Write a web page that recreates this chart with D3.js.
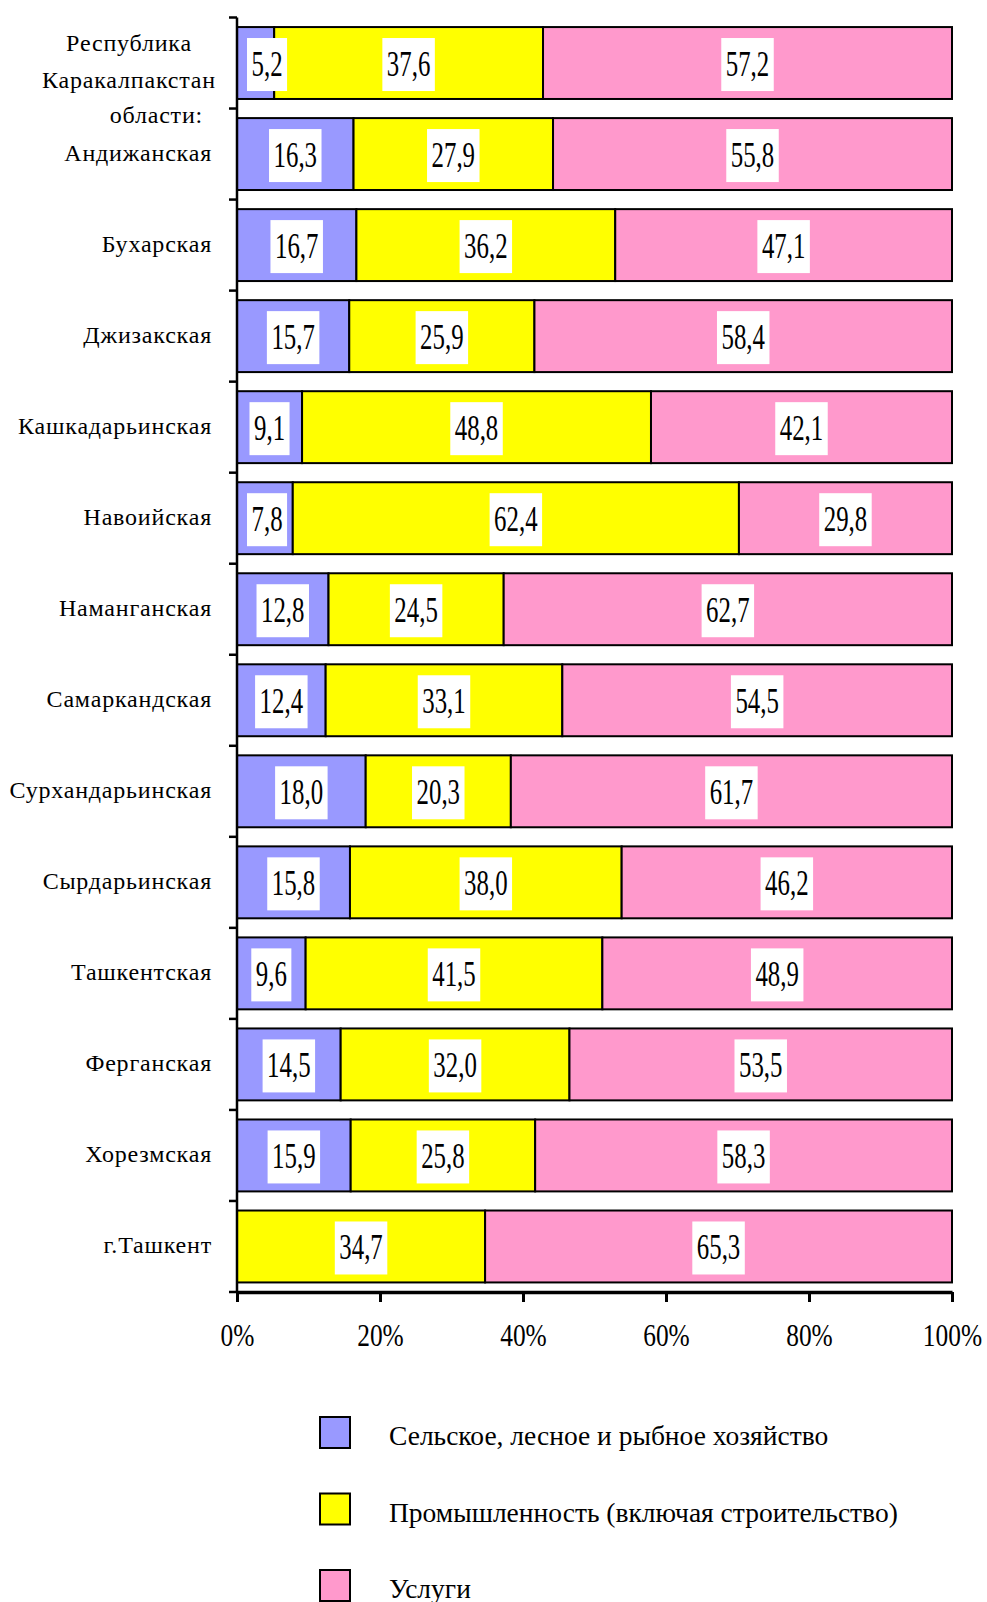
<!DOCTYPE html>
<html lang="ru">
<head>
<meta charset="UTF-8">
<title>Структура ВРП по регионам</title>
<style>
  body { margin: 0; background: #fff; }
  svg text { font-family: "Liberation Serif", "Times New Roman", serif; fill: #000; }
</style>
</head>
<body>
<script src="https://d3js.org/d3.v7.min.js"></script>
<div id="chart"></div>
<script>
// регионы и доли секторов, %
const regions = ["Республика Каракалпакстан", "Андижанская", "Бухарская", "Джизакская", "Кашкадарьинская",
  "Навоийская", "Наманганская", "Самаркандская", "Сурхандарьинская", "Сырдарьинская",
  "Ташкентская", "Ферганская", "Хорезмская", "г.Ташкент"];
const agriculture = [5.2, 16.3, 16.7, 15.7, 9.1, 7.8, 12.8, 12.4, 18.0, 15.8, 9.6, 14.5, 15.9, 0];
const industry = [37.6, 27.9, 36.2, 25.9, 48.8, 62.4, 24.5, 33.1, 20.3, 38.0, 41.5, 32.0, 25.8, 34.7];
const services = [57.2, 55.8, 47.1, 58.4, 42.1, 29.8, 62.7, 54.5, 61.7, 46.2, 48.9, 53.5, 58.3, 65.3];
const seriesNames = ["Сельское, лесное и рыбное хозяйство", "Промышленность (включая строительство)", "Услуги"];
const xTicks = [0, 20, 40, 60, 80, 100];
const groupHeading = "области:";

const colors = ["#9999FF", "#FFFF00", "#FF99CC"];
const width = 987, height = 1602;
const plotLeft = 237, plotRight = 952, plotTop = 17.5, axisY = 1292;

const svg = d3.select("#chart").append("svg").attr("width", width).attr("height", height);

// таблица для stack
const table = regions.map((r, i) => ({ region: r, a: agriculture[i], b: industry[i], c: services[i] }));
const stack = d3.stack().keys(["a", "b", "c"]);
const layers = stack(table);

const x = d3.scaleLinear().domain([0, 100]).range([plotLeft, plotRight]);
const y = d3.scaleBand().domain(regions).range([plotTop, axisY]).paddingInner(0.21).paddingOuter(0.105);
const bh = y.bandwidth();

// полосы
const gBars = svg.append("g");
layers.forEach((layer, k) => {
  gBars.selectAll(null).data(layer.filter(d => d[1] - d[0] > 0)).enter().append("rect")
    .attr("x", d => x(d[0]))
    .attr("y", d => y(d.data.region))
    .attr("width", d => x(d[1]) - x(d[0]))
    .attr("height", bh)
    .attr("fill", colors[k])
    .attr("stroke", "#000")
    .attr("stroke-width", 2);
});

// подписи значений на белых плашках
const fmt = v => d3.format(".1f")(v).replace(".", ",");
const sx = 0.71;
layers.forEach(layer => {
  layer.filter(d => d[1] - d[0] > 0).forEach(d => {
    const cy = y(d.data.region) + bh / 2;
    const g = svg.append("g");
    const box = g.append("rect").attr("fill", "#fff");
    const t = g.append("text")
      .attr("text-anchor", "middle")
      .style("font-size", "35px")
      .text(fmt(d[1] - d[0]));
    const w = t.node().getComputedTextLength() * sx + 9;
    // не залезать на ось
    const cx = Math.max(x((d[0] + d[1]) / 2), plotLeft + 10 + w / 2);
    t.attr("transform", `translate(${cx},${cy + 13}) scale(${sx},1)`);
    box.attr("x", cx - w / 2).attr("y", cy + 1.5 - 26.5).attr("width", w).attr("height", 53);
  });
});

// ось Y: линия и засечки на границах категорий
const gy = svg.append("g");
gy.append("line").attr("x1", plotLeft).attr("x2", plotLeft).attr("y1", plotTop).attr("y2", axisY)
  .attr("stroke", "#000").attr("stroke-width", 2.5);
const bounds = regions.map(r => y(r) - y.step() * y.paddingInner() / 2).concat([axisY]);
gy.selectAll(null).data(bounds).enter().append("line")
  .attr("x1", plotLeft - 8).attr("x2", plotLeft).attr("y1", d => d).attr("y2", d => d)
  .attr("stroke", "#000").attr("stroke-width", 2.5);

// подписи категорий
regions.forEach((r, i) => {
  const cy = y(r) + bh / 2;
  if (i === 0) {
    const words = r.split(" ");
    svg.append("text").attr("text-anchor", "middle").style("font-size", "24px")
      .style("letter-spacing", "0.8px")
      .selectAll("tspan").data(words).enter().append("tspan")
      .attr("x", 129).attr("y", (d, j) => cy - 12 + j * 37).text(d => d);
  } else {
    svg.append("text").attr("x", 212).attr("y", cy + 7)
      .attr("text-anchor", "end").style("font-size", "24px")
      .style("letter-spacing", "0.8px").text(r);
  }
});
svg.append("text").attr("x", 203).attr("y", bounds[1] + 14)
  .attr("text-anchor", "end").style("font-size", "24px")
  .style("letter-spacing", "0.8px").text(groupHeading);

// ось X
const xAxis = d3.axisBottom(x).tickValues(xTicks).tickFormat(d => d + "%")
  .tickSize(10).tickSizeOuter(0).tickPadding(22);
const gx = svg.append("g").attr("transform", `translate(0,${axisY})`).call(xAxis);
gx.select(".domain").attr("stroke", "#000").attr("stroke-width", 3.5);
gx.selectAll(".tick line").attr("stroke", "#000").attr("stroke-width", 3);
gx.selectAll(".tick text")
  .attr("transform", `scale(0.82,1)`)
  .attr("dy", "0.71em")
  .style("font-size", "31px")
  .style("font-family", "'Liberation Serif', serif")
  .attr("fill", "#000");

// легенда
const legend = svg.append("g");
seriesNames.forEach((name, k) => {
  const ly = 1417 + k * 76.5;
  legend.append("rect").attr("x", 320).attr("y", ly).attr("width", 30).attr("height", 31)
    .attr("fill", colors[k]).attr("stroke", "#000").attr("stroke-width", 2);
  legend.append("text").attr("x", 389).attr("y", ly + 28).style("font-size", "27.5px").text(name);
});
</script>
</body>
</html>
